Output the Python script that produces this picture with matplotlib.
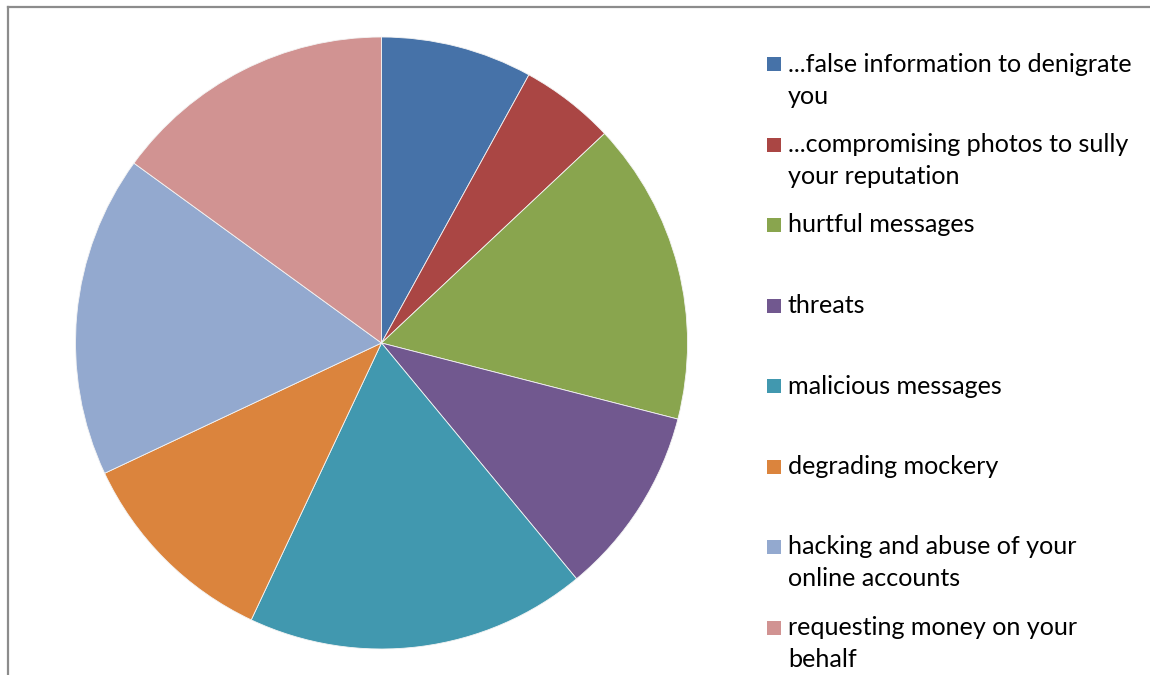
import matplotlib
matplotlib.use("Agg")
import matplotlib.pyplot as plt
from matplotlib.patches import Rectangle
from matplotlib.lines import Line2D

# Share of each type of online harassment
labels = [
    "...false information to denigrate\nyou",
    "...compromising photos to sully\nyour reputation",
    "hurtful messages",
    "threats",
    "malicious messages",
    "degrading mockery",
    "hacking and abuse of your\nonline accounts",
    "requesting money on your\nbehalf",
]
values = [8, 5, 16, 10, 18, 11, 17, 15]
colors = ["#4672A8", "#AA4644", "#89A54E", "#71588F",
          "#4198AF", "#DB843D", "#93A9CF", "#D19392"]

W, H = 1150, 675
fig = plt.figure(figsize=(W / 100, H / 100), dpi=100)
fig.patch.set_facecolor("white")

# pie area: centre (381.5, 343) px, radius 306 px
cx, cy, r = 381.5, 343, 306
ax = fig.add_axes([(cx - r) / W, (H - cy - r) / H, 2 * r / W, 2 * r / H])
ax.pie(values, colors=colors, startangle=90, counterclock=False, radius=1,
       wedgeprops=dict(edgecolor="#f4f4f4", linewidth=0.6))
ax.set_xlim(-1, 1)
ax.set_ylim(-1, 1)
ax.set_aspect("equal")
ax.axis("off")

# chart-area frame (top and left edges visible)
frame_kw = dict(color="#8c8c8c", linewidth=1.6, transform=fig.transFigure)
fig.add_artist(Line2D([8 / W, 1.0], [1 - 7 / H, 1 - 7 / H], **frame_kw))
fig.add_artist(Line2D([8 / W, 8 / W], [0.0, 1 - 7 / H], **frame_kw))

# legend: square beside the first line, wrapped lines below
font = dict(family=["Lato", "DejaVu Sans"], size=18.1, color="#000000")
base0, step, line_h = 71.5, 80.5, 32
for i, (lab, col) in enumerate(zip(labels, colors)):
    base = base0 + i * step
    fig.add_artist(Rectangle((767 / W, 1 - (base - 0.5) / H), 14 / W, 14 / H,
                             transform=fig.transFigure, facecolor=col,
                             edgecolor="none"))
    for j, line in enumerate(lab.split("\n")):
        fig.text(788 / W, 1 - (base + j * line_h) / H, line,
                 ha="left", va="baseline", **font)

fig.savefig("out.png", dpi=100, facecolor="white")
